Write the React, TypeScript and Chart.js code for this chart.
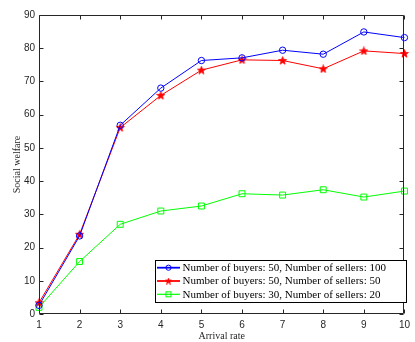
import React, { useEffect, useRef } from 'react';
import { Chart, registerables } from 'chart.js';

Chart.register(...registerables);

const arrivalRates = ['1', '2', '3', '4', '5', '6', '7', '8', '9', '10'];
const welfareB50S100 = [2.6, 23.5, 56.8, 68.0, 76.3, 77.1, 79.4, 78.2, 84.9, 83.2];
const welfareB50S50 = [3.4, 24.0, 56.1, 65.8, 73.4, 76.5, 76.3, 73.8, 79.2, 78.4];
const welfareB30S20 = [2.0, 15.8, 27.0, 31.0, 32.5, 36.2, 35.8, 37.4, 35.2, 37.0];
const seriesLabels = [
  'Number of buyers: 50, Number of sellers: 100',
  'Number of buyers: 50, Number of sellers: 50',
  'Number of buyers: 30, Number of sellers: 20',
];
const yTicks = [0, 10, 20, 30, 40, 50, 60, 70, 80, 90];

const AXIS = '#262626';
const BLUE = '#0000ff';
const RED = '#ff0000';
const GREEN = '#00ff00';

function makeStar(color: string, size: number) {
  const c = document.createElement('canvas');
  c.width = size;
  c.height = size;
  const ctx = c.getContext('2d')!;
  const cx = size / 2, cy = size / 2 + 0.3;
  const R = size / 2 - 0.3;
  const r = R * 0.42;
  ctx.beginPath();
  for (let i = 0; i < 10; i++) {
    const rad = i % 2 === 0 ? R : r;
    const a = -Math.PI / 2 + (i * Math.PI) / 5;
    const x = cx + rad * Math.cos(a);
    const y = cy + rad * Math.sin(a);
    if (i === 0) ctx.moveTo(x, y);
    else ctx.lineTo(x, y);
  }
  ctx.closePath();
  ctx.fillStyle = color;
  ctx.fill();
  ctx.strokeStyle = color;
  ctx.lineWidth = 0.8;
  ctx.stroke();
  return c;
}

export default function App() {
  const ref = useRef<HTMLCanvasElement>(null);

  useEffect(() => {
    const star = makeStar(RED, 9);
    const legendStar = makeStar(RED, 7);

    const framePlugin = {
      id: 'frame',
      afterDraw(chart: any) {
        const { ctx, chartArea: a } = chart;
        const xs = chart.scales.x;
        const ys = chart.scales.y;
        ctx.save();
        ctx.strokeStyle = AXIS;
        ctx.lineWidth = 1;
        const L = Math.round(a.left) + 0.5;
        const R = Math.round(a.right) - 0.5;
        const T = Math.round(a.top) + 0.5;
        const B = Math.round(a.bottom) - 0.5;
        ctx.beginPath();
        ctx.rect(L, T, R - L, B - T);
        ctx.stroke();
        const tl = 4;
        ctx.beginPath();
        for (let i = 0; i < arrivalRates.length; i++) {
          const x = Math.round(xs.getPixelForValue(i)) + 0.5;
          ctx.moveTo(x, B);
          ctx.lineTo(x, B - tl);
          ctx.moveTo(x, T);
          ctx.lineTo(x, T + tl);
        }
        for (const v of yTicks) {
          const y = Math.round(ys.getPixelForValue(v)) + 0.5;
          ctx.moveTo(L, y);
          ctx.lineTo(L + tl, y);
          ctx.moveTo(R, y);
          ctx.lineTo(R - tl, y);
        }
        ctx.stroke();

        // legend
        const lx = 155.5, ly = 260.5, lw = 251, lh = 42;
        ctx.fillStyle = '#ffffff';
        ctx.fillRect(lx, ly, lw, lh);
        ctx.strokeStyle = '#000000';
        ctx.lineWidth = 1;
        ctx.strokeRect(lx, ly, lw, lh);
        const colors = [BLUE, RED, GREEN];
        const rows = [267.7, 281, 294.3];
        ctx.font = '11px "Liberation Serif", "Times New Roman", serif';
        ctx.textBaseline = 'middle';
        ctx.textAlign = 'left';
        for (let i = 0; i < 3; i++) {
          const y = rows[i];
          ctx.strokeStyle = colors[i];
          ctx.lineWidth = i === 2 ? 1.2 : 1.8;
          ctx.beginPath();
          ctx.moveTo(157, y);
          ctx.lineTo(180, y);
          ctx.stroke();
          const mx = 168.5;
          ctx.lineWidth = 1;
          if (i === 0) {
            ctx.beginPath();
            ctx.arc(mx, y, 2.6, 0, Math.PI * 2);
            ctx.stroke();
          } else if (i === 1) {
            ctx.drawImage(legendStar, mx - 3.5, y - 3.5);
          } else {
            ctx.strokeRect(mx - 2.5, y - 2.5, 5, 5);
          }
          ctx.fillStyle = '#000000';
          ctx.fillText(seriesLabels[i], 182.5, y + 0.5);
        }
        ctx.restore();
      },
    };

    const chart = new Chart(ref.current!, {
      type: 'line',
      data: {
        labels: arrivalRates,
        datasets: [
          {
            label: seriesLabels[0],
            data: welfareB50S100,
            borderColor: BLUE,
            backgroundColor: 'rgba(0,0,0,0)',
            borderWidth: 1,
            pointStyle: 'circle',
            pointRadius: 3.2,
            pointBorderWidth: 1,
            pointBorderColor: BLUE,
            pointBackgroundColor: 'rgba(0,0,0,0)',
            tension: 0,
          },
          {
            label: seriesLabels[1],
            data: welfareB50S50,
            borderColor: RED,
            backgroundColor: RED,
            borderWidth: 1,
            pointStyle: star as any,
            pointRadius: 4.5,
            tension: 0,
          },
          {
            label: seriesLabels[2],
            data: welfareB30S20,
            borderColor: GREEN,
            backgroundColor: 'rgba(0,0,0,0)',
            borderWidth: 1,
            pointStyle: 'rect',
            pointRadius: 4.2,
            pointBorderWidth: 1,
            pointBorderColor: GREEN,
            pointBackgroundColor: 'rgba(0,0,0,0)',
            tension: 0,
          },
        ],
      },
      options: {
        responsive: false,
        animation: false,
        layout: { padding: { top: 15, right: 8, left: 0, bottom: 0 } },
        plugins: {
          legend: { display: false },
          tooltip: { enabled: false },
        },
        scales: {
          x: {
            type: 'category',
            offset: false,
            grid: { display: false, drawTicks: false },
            border: { display: false },
            ticks: {
              padding: 5,
              color: AXIS,
              autoSkip: false,
              maxRotation: 0,
              font: { family: '"Liberation Sans", Arial, sans-serif', size: 10 },
            },
            title: {
              display: true,
              text: 'Arrival rate',
              color: AXIS,
              padding: { top: 0, bottom: 0 },
              font: { family: '"Liberation Serif", "Times New Roman", serif', size: 10 },
            },
            afterFit: (s: any) => {
              s.height = 28;
            },
          },
          y: {
            type: 'linear',
            min: 0,
            max: 90,
            grid: { display: false, drawTicks: false },
            border: { display: false },
            ticks: {
              stepSize: 10,
              padding: 4,
              color: AXIS,
              font: { family: '"Liberation Sans", Arial, sans-serif', size: 10 },
            },
            title: {
              display: true,
              text: 'Social welfare',
              color: AXIS,
              padding: { top: 11, bottom: 0 },
              font: { family: '"Liberation Serif", "Times New Roman", serif', size: 10 },
            },
            afterFit: (s: any) => {
              s.width = 39;
            },
          },
        },
      },
      plugins: [framePlugin],
    });
    return () => chart.destroy();
  }, []);

  return (
    <div style={{ position: 'fixed', left: 0, top: 0, width: 415, height: 342, background: '#fff' }}>
      <canvas ref={ref} width={415} height={342} style={{ display: 'block' }} />
    </div>
  );
}
